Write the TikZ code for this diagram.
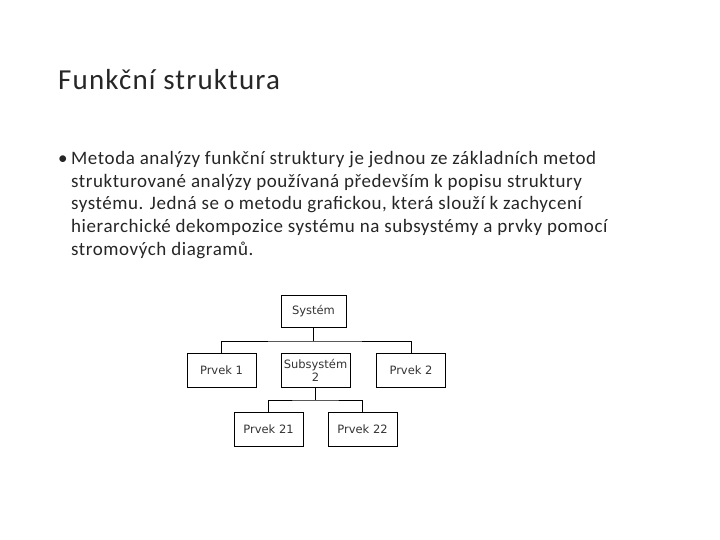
\documentclass[tikz,border=0pt]{standalone}
\usepackage{fontspec}
\setmainfont{Carlito}
\newfontfamily\boxfont{DejaVu Sans}
\begin{document}
\begin{tikzpicture}[x=1pt,y=-1pt,
  blok/.style={draw, line width=0.8pt, minimum width=69pt, minimum height=34pt, inner sep=1pt, align=center, font=\boxfont\fontsize{11.5}{12.5}\selectfont, text=black!80},
  radek/.style={anchor=base west, inner sep=0pt, font=\fontsize{19}{20}\selectfont\addfontfeature{LetterSpace=3}, text=black!85}]
    \useasboundingbox (0,0) rectangle (720,540);
    % Title
    \node [anchor=base west, inner sep=0pt, font=\fontsize{29}{30}\selectfont\addfontfeature{LetterSpace=4}, text=black!85] (nadpis) at (58,90) {Funkční struktura};
    % Text lines
    \node [radek] (b0) at (58,165) {•};
    \node [radek] (r1) at (71,165) {Metoda analýzy funkční struktury je jednou ze základních metod};
    \node [radek] (r2) at (71,187.5) {strukturované analýzy používaná především k popisu struktury};
    \node [radek] (r3) at (71,210) {systému. Jedná se o metodu grafickou, která slouží k zachycení};
    \node [radek] (r4) at (71,232.5) {hierarchické dekompozice systému na subsystémy a prvky pomocí};
    \node [radek] (r5) at (71,255) {stromových diagramů.};
    % Boxes
    \node [blok, minimum width=65pt, minimum height=32pt] (sys) at (313.5,311) {Systém};
    \node [blok] (p1) at (221.5,370.5) {Prvek 1};
    \node [blok] (sub) at (315.5,370.5) {Subsystém\\2};
    \node [blok] (p2) at (411,370.5) {Prvek 2};
    \node [blok] (p21) at (268.5,429) {Prvek 21};
    \node [blok] (p22) at (362.5,429) {Prvek 22};
    % Connectors
    \coordinate (h1) at (313.5,341);
    \coordinate (h2) at (315.5,400);
    \draw [line width=0.8pt] (sys.south) -- (h1);
    \draw [line width=0.8pt] (p1.north) |- (h1) -| (p2.north);
    \draw [line width=0.8pt] (sub.south) -- (h2);
    \draw [line width=0.8pt] (p21.north) |- (h2) -| (p22.north);
\end{tikzpicture}
\end{document}
